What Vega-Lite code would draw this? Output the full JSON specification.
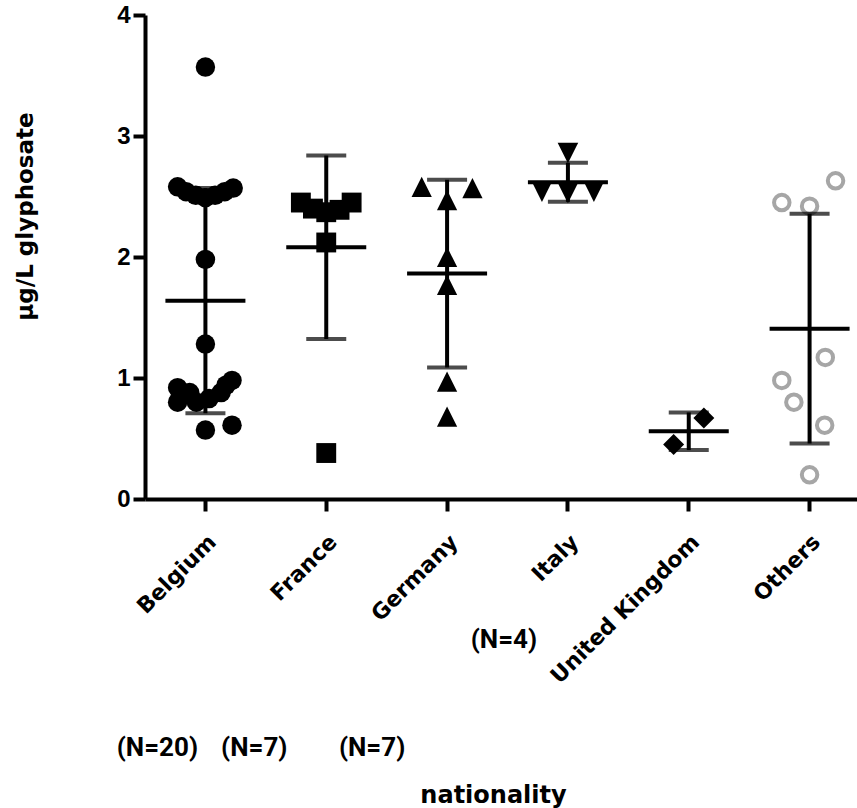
{
  "$schema": "https://vega.github.io/schema/vega-lite/v6.json",
  "autosize": {"type": "none"},
  "padding": {"left": 145, "top": 15, "right": 0, "bottom": 309},
  "width": 725,
  "height": 484,
  "background": "white",
  "config": {
    "view": {"stroke": null},
    "axis": {"domainColor": "black", "tickColor": "black", "labelColor": "black", "titleColor": "black", "grid": false}
  },
  "datasets": {
    "obs": [
      {"country": "Belgium", "value": 3.57, "slot": 0},
      {"country": "Belgium", "value": 2.58, "slot": -2.3},
      {"country": "Belgium", "value": 2.54, "slot": -1.6},
      {"country": "Belgium", "value": 2.51, "slot": -0.8},
      {"country": "Belgium", "value": 2.49, "slot": 0},
      {"country": "Belgium", "value": 2.51, "slot": 0.8},
      {"country": "Belgium", "value": 2.54, "slot": 1.6},
      {"country": "Belgium", "value": 2.57, "slot": 2.3},
      {"country": "Belgium", "value": 1.98, "slot": 0},
      {"country": "Belgium", "value": 1.28, "slot": 0},
      {"country": "Belgium", "value": 0.92, "slot": -2.3},
      {"country": "Belgium", "value": 0.80, "slot": -2.3},
      {"country": "Belgium", "value": 0.88, "slot": -1.3},
      {"country": "Belgium", "value": 0.80, "slot": -0.75},
      {"country": "Belgium", "value": 0.83, "slot": 0.3},
      {"country": "Belgium", "value": 0.88, "slot": 1.3},
      {"country": "Belgium", "value": 0.98, "slot": 2.2},
      {"country": "Belgium", "value": 0.94, "slot": 1.7},
      {"country": "Belgium", "value": 0.57, "slot": 0},
      {"country": "Belgium", "value": 0.61, "slot": 2.2},
      {"country": "France", "value": 2.45, "slot": -2.1},
      {"country": "France", "value": 2.40, "slot": -1.1},
      {"country": "France", "value": 2.37, "slot": 0},
      {"country": "France", "value": 2.39, "slot": 1.1},
      {"country": "France", "value": 2.45, "slot": 2.1},
      {"country": "France", "value": 2.12, "slot": 0},
      {"country": "France", "value": 0.38, "slot": 0},
      {"country": "Germany", "value": 2.58, "slot": -2.1},
      {"country": "Germany", "value": 2.57, "slot": 2.1},
      {"country": "Germany", "value": 2.47, "slot": 0},
      {"country": "Germany", "value": 2.00, "slot": 0},
      {"country": "Germany", "value": 1.77, "slot": 0},
      {"country": "Germany", "value": 0.97, "slot": 0},
      {"country": "Germany", "value": 0.68, "slot": 0},
      {"country": "Italy", "value": 2.86, "slot": 0},
      {"country": "Italy", "value": 2.54, "slot": -2.15},
      {"country": "Italy", "value": 2.53, "slot": 0},
      {"country": "Italy", "value": 2.54, "slot": 2.15},
      {"country": "United Kingdom", "value": 0.67, "slot": 1.25},
      {"country": "United Kingdom", "value": 0.45, "slot": -1.25},
      {"country": "Others", "value": 2.63, "slot": 2.15},
      {"country": "Others", "value": 2.45, "slot": -2.3},
      {"country": "Others", "value": 2.42, "slot": 0},
      {"country": "Others", "value": 1.17, "slot": 1.3},
      {"country": "Others", "value": 0.98, "slot": -2.3},
      {"country": "Others", "value": 0.80, "slot": -1.3},
      {"country": "Others", "value": 0.61, "slot": 1.25},
      {"country": "Others", "value": 0.20, "slot": 0}
    ],
    "notes": [
      {"country": "Belgium", "label": "(N=20)"},
      {"country": "France", "label": "(N=7)"},
      {"country": "Germany", "label": "(N=7)"},
      {"country": "Italy", "label": "(N=4)"}
    ]
  },
  "layer": [
    {
      "data": {"name": "obs"},
      "encoding": {
        "x": {
          "field": "country", "type": "nominal",
          "scale": {"type": "band", "paddingInner": 0, "paddingOuter": 0, "domain": ["Belgium", "France", "Germany", "Italy", "United Kingdom", "Others"]},
          "axis": {
            "title": "nationality", "labelAngle": -45, "labelFont": "DejaVu Sans", "labelFontWeight": "bold", "labelFontSize": 22, "labelLimit": 0,
            "labelPadding": 20, "tickSize": 12, "tickWidth": 4, "domainWidth": 4,
            "titleFont": "DejaVu Sans", "titleFontWeight": "bold", "titleFontSize": 24, "titleY": 296, "titleBaseline": "middle", "titleX": 348
          }
        },
        "y": {
          "field": "value", "type": "quantitative",
          "scale": {"domain": [0, 4], "nice": false, "zero": false},
          "axis": {
            "title": "µg/L glyphosate", "values": [0, 1, 2, 3, 4], "format": "d", "labelFont": "Liberation Sans", "labelFontWeight": "bold", "labelFontSize": 24,
            "labelPadding": 3, "tickSize": 12, "tickWidth": 4, "domainWidth": 4,
            "titleFont": "DejaVu Sans", "titleFontWeight": "bold", "titleFontSize": 23, "titleX": -120, "titleY": 201, "titleAngle": -90, "titleAlign": "center", "titleBaseline": "middle"
          }
        }
      },
      "layer": [
        {
          "transform": [{"filter": "datum.country !== 'Others'"}],
          "mark": {"type": "point", "filled": true, "opacity": 1, "color": "black", "strokeWidth": 0},
          "encoding": {
            "xOffset": {"field": "slot", "type": "quantitative", "scale": {"domain": [-5, 5]}},
            "shape": {"field": "country", "type": "nominal", "legend": null,
              "scale": {"domain": ["Belgium", "France", "Germany", "Italy", "United Kingdom"],
                        "range": ["circle", "square", "M0,-1L1,1L-1,1Z", "M-1,-1L1,-1L0,1Z", "diamond"]}},
            "size": {"field": "country", "type": "nominal", "legend": null,
              "scale": {"domain": ["Belgium", "France", "Germany", "Italy", "United Kingdom"],
                        "range": [380, 440, 440, 440, 440]}}
          }
        },
        {
          "transform": [{"filter": "datum.country === 'Others'"}],
          "mark": {"type": "point", "shape": "circle", "filled": false, "opacity": 1, "stroke": "#a6a6a6", "strokeWidth": 4, "size": 240},
          "encoding": {
            "xOffset": {"field": "slot", "type": "quantitative", "scale": {"domain": [-5, 5]}}
          }
        },
        {
          "mark": {"type": "errorbar", "extent": "stdev", "thickness": 4, "color": "black", "ticks": {"size": 40, "thickness": 4, "color": "black"}},
          "encoding": {}
        },
        {
          "mark": {"type": "tick", "color": "black", "size": 80, "thickness": 4, "opacity": 1},
          "encoding": {"y": {"aggregate": "mean", "field": "value", "type": "quantitative"}}
        }
      ]
    },
    {
      "data": {"name": "notes"},
      "transform": [{"filter": "datum.country === 'Belgium'"}],
      "mark": {"type": "text", "font": "Roboto", "fontWeight": "bold", "fontSize": 26, "dx": -48, "baseline": "middle", "align": "center", "color": "black", "clip": false},
      "encoding": {"x": {"field": "country", "type": "nominal"}, "y": {"datum": -2.06, "type": "quantitative"}, "text": {"field": "label", "type": "nominal"}}
    },
    {
      "data": {"name": "notes"},
      "transform": [{"filter": "datum.country === 'France'"}],
      "mark": {"type": "text", "font": "Roboto", "fontWeight": "bold", "fontSize": 26, "dx": -72, "baseline": "middle", "align": "center", "color": "black", "clip": false},
      "encoding": {"x": {"field": "country", "type": "nominal"}, "y": {"datum": -2.06, "type": "quantitative"}, "text": {"field": "label", "type": "nominal"}}
    },
    {
      "data": {"name": "notes"},
      "transform": [{"filter": "datum.country === 'Germany'"}],
      "mark": {"type": "text", "font": "Roboto", "fontWeight": "bold", "fontSize": 26, "dx": -75, "baseline": "middle", "align": "center", "color": "black", "clip": false},
      "encoding": {"x": {"field": "country", "type": "nominal"}, "y": {"datum": -2.06, "type": "quantitative"}, "text": {"field": "label", "type": "nominal"}}
    },
    {
      "data": {"name": "notes"},
      "transform": [{"filter": "datum.country === 'Italy'"}],
      "mark": {"type": "text", "font": "Roboto", "fontWeight": "bold", "fontSize": 26, "dx": -64, "baseline": "middle", "align": "center", "color": "black", "clip": false},
      "encoding": {"x": {"field": "country", "type": "nominal"}, "y": {"datum": -1.165, "type": "quantitative"}, "text": {"field": "label", "type": "nominal"}}
    }
  ]
}
